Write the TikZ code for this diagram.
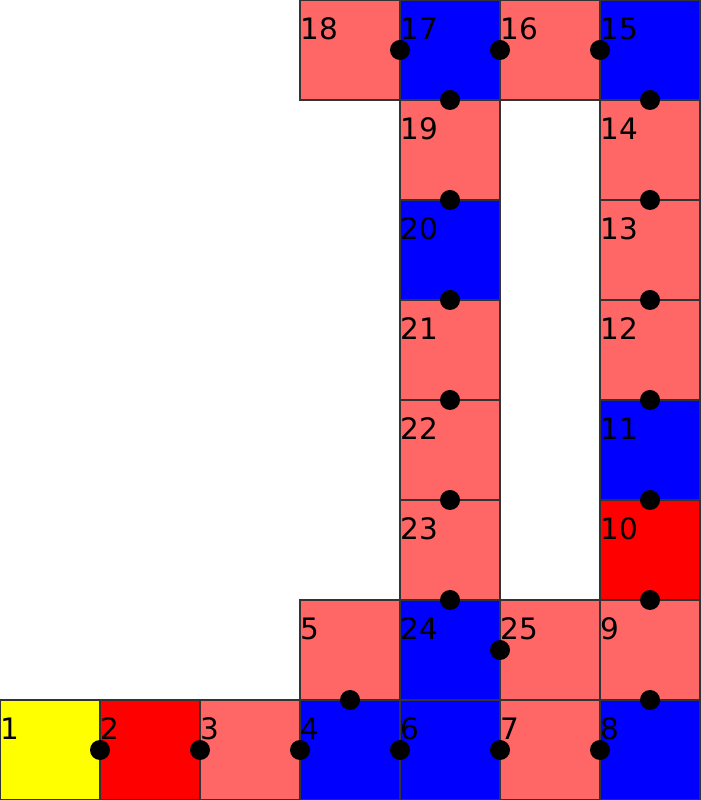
\documentclass[tikz,border=0pt]{standalone}
\usepackage{fontspec}
\setmainfont{DejaVu Sans}

\definecolor{pinkcell}{HTML}{FF6666}
\definecolor{redcell}{HTML}{FF0000}
\definecolor{bluecell}{HTML}{0000FF}
\definecolor{yellowcell}{HTML}{FFFF00}

\begin{document}
\begin{tikzpicture}[
  x=1cm, y=1cm,
  cell/.style={draw=black!80,line width=0.3pt,rectangle,minimum size=1cm,inner sep=0pt,outer sep=0pt},
  num/.style={anchor=base west,inner sep=0pt,font=\fontsize{8.4}{10}\selectfont},
  joint/.style={circle,fill=black,minimum size=0.2cm,inner sep=0pt}
]
  \useasboundingbox (0,0) rectangle (7,8);
  % cells: number/column/row/colour
  \foreach \n/\c/\r/\col in {
      1/0/0/yellowcell, 2/1/0/redcell, 3/2/0/pinkcell, 4/3/0/bluecell,
      5/3/1/pinkcell, 6/4/0/bluecell, 7/5/0/pinkcell, 8/6/0/bluecell,
      9/6/1/pinkcell, 10/6/2/redcell, 11/6/3/bluecell, 12/6/4/pinkcell,
      13/6/5/pinkcell, 14/6/6/pinkcell, 15/6/7/bluecell, 16/5/7/pinkcell,
      17/4/7/bluecell, 18/3/7/pinkcell, 19/4/6/pinkcell, 20/4/5/bluecell,
      21/4/4/pinkcell, 22/4/3/pinkcell, 23/4/2/pinkcell, 24/4/1/bluecell,
      25/5/1/pinkcell}
  {
    \node[cell,fill=\col] (c\n) at (\c+0.5,\r+0.5) {};
    \node[num] (l\n) at ([yshift=-0.4cm]c\n.north west) {\n};
  }
  % joints between neighbouring cells
  \foreach \a in {c1.east, c2.east, c3.east, c4.north, c4.east, c6.east,
      c7.east, c8.north, c9.north, c10.north, c11.north, c12.north,
      c13.north, c14.north, c15.west, c16.west, c17.west, c17.south,
      c19.south, c20.south, c21.south, c22.south, c23.south, c24.east}
    \node[joint] at (\a) {};
\end{tikzpicture}
\end{document}
